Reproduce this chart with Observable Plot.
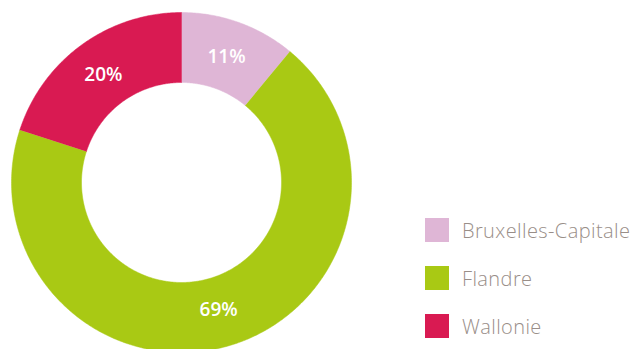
<!DOCTYPE html>
<html>
<head>
<meta charset="utf-8">
<script src="https://cdn.jsdelivr.net/npm/d3@7"></script>
<script src="https://cdn.jsdelivr.net/npm/@observablehq/plot@0.6"></script>
<style>
  html, body { margin: 0; padding: 0; background: #fff; }
  #wrap { position: relative; width: 634px; height: 349px; overflow: hidden; }
  #legend { position: absolute; left: 425px; top: 218px; font-family: "Open Sans", sans-serif; }
  .row { display: flex; align-items: center; height: 24px; margin-bottom: 24px; }
  .sw { width: 24px; height: 24px; margin-right: 13px; }
  .lab { font-size: 20px; color: #998e88; white-space: nowrap; font-weight: 300; letter-spacing: 0.4px; }
</style>
</head>
<body>
<div id="wrap"></div>
<script>
// Regions and their share
const regions = ["Bruxelles-Capitale", "Flandre", "Wallonie"];
const shares = [11, 69, 20];
const colors = ["#dfb6d6", "#a9c914", "#d91a52"];
const labels = ["11%", "69%", "20%"];

// Ring geometry in chart units (outer radius = 170)
const R_OUT = 170, R_IN = 100, R_LABEL = 133;
const total = d3.sum(shares);

// Angles are measured clockwise from twelve o'clock
const pt = (r, a) => [r * Math.sin(a), r * Math.cos(a)];

let start = 0;
const arcs = regions.map((name, i) => {
  const a0 = start, a1 = start + (shares[i] / total) * 2 * Math.PI;
  start = a1;
  return {name, a0, a1, label: labels[i]};
});

// Polygon vertices of each ring segment
const verts = [];
for (const s of arcs) {
  const n = Math.max(8, Math.ceil((s.a1 - s.a0) / 0.01));
  for (let k = 0; k <= n; k++) {
    const a = s.a0 + (s.a1 - s.a0) * k / n;
    const [x, y] = pt(R_OUT, a);
    verts.push({name: s.name, x, y});
  }
  for (let k = n; k >= 0; k--) {
    const a = s.a0 + (s.a1 - s.a0) * k / n;
    const [x, y] = pt(R_IN, a);
    verts.push({name: s.name, x, y});
  }
}

const labelPts = arcs.map(s => {
  const [x, y] = pt(R_LABEL, (s.a0 + s.a1) / 2);
  return {x, y, label: s.label};
});

const W = 634, H = 349, CX = 181, CY = 182;

const chart = Plot.plot({
  width: W,
  height: H,
  margin: 0,
  style: {background: "transparent"},
  x: {domain: [-CX, W - CX], axis: null},
  y: {domain: [CY - H, CY], axis: null},
  color: {domain: regions, range: colors},
  marks: [
    Plot.line(verts, {x: "x", y: "y", z: "name", fill: "name", stroke: "name", strokeWidth: 0.5, curve: "linear"}),
    Plot.text(labelPts, {
      x: "x", y: "y", text: "label",
      fill: "white", fontSize: 19, fontWeight: 600,
      fontFamily: "Open Sans", textAnchor: "middle", lineAnchor: "middle"
    })
  ]
});

const wrap = document.getElementById("wrap");
wrap.appendChild(chart);

// Legend
const legend = document.createElement("div");
legend.id = "legend";
regions.forEach((name, i) => {
  const row = document.createElement("div");
  row.className = "row";
  const sw = document.createElement("div");
  sw.className = "sw";
  sw.style.background = colors[i];
  const lab = document.createElement("span");
  lab.className = "lab";
  lab.textContent = name;
  row.appendChild(sw);
  row.appendChild(lab);
  legend.appendChild(row);
});
wrap.appendChild(legend);
</script>
</body>
</html>
